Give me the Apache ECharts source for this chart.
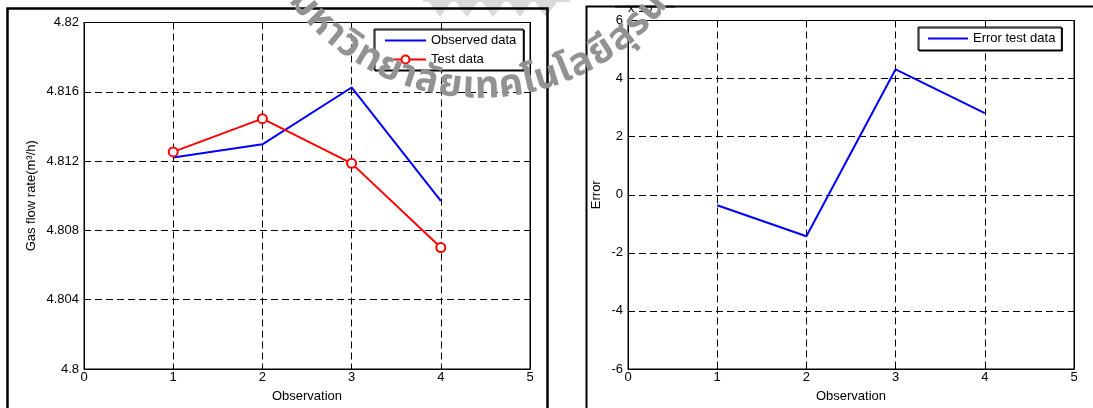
<!DOCTYPE html>
<html>
<head>
<meta charset="utf-8">
<title>Gas flow rate</title>
<script src="https://cdn.jsdelivr.net/npm/echarts@6/dist/echarts.min.js"></script>
<style>
  html, body { margin: 0; padding: 0; background: #fff; }
  #chart { width: 1093px; height: 408px; }
</style>
</head>
<body>
<div id="chart"></div>
<script>
// data
const observation = [1, 2, 3, 4]
const observedData = [4.81221, 4.81297, 4.81625, 4.80971]
const testData = [4.81253, 4.81445, 4.81187, 4.80701]
const errorData = [-0.36, -1.43, 4.32, 2.81] // x 10^-3

const FONT = '"Liberation Sans", Arial, sans-serif'
const txt = { color: '#000', fontFamily: FONT, fontSize: 13 }
const gridLine = { show: true, lineStyle: { color: '#000', width: 1, type: [7, 4] } }

function pairs(xs, ys) {
  return xs.map((x, i) => [x, ys[i]])
}

function xAxes(gridIndex) {
  const base = {
    gridIndex: gridIndex,
    type: 'value',
    min: 0,
    max: 5,
    interval: 1,
    axisLine: { onZero: false, lineStyle: { color: '#000', width: 1 } },
    axisTick: { inside: true, length: 5, lineStyle: { color: '#000' } }
  }
  return [
    Object.assign({}, base, {
      position: 'bottom',
      axisLabel: Object.assign({ margin: 2 }, txt),
      splitLine: gridLine,
      name: 'Observation',
      nameLocation: 'middle',
      nameGap: 21,
      nameTextStyle: txt
    }),
    Object.assign({}, base, {
      position: 'top',
      axisLabel: { show: false },
      splitLine: { show: false }
    })
  ]
}

function yAxes(gridIndex, min, max, interval, name, nameGap, fmt) {
  const base = {
    gridIndex: gridIndex,
    type: 'value',
    min: min,
    max: max,
    interval: interval,
    axisLine: { show: true, onZero: false, lineStyle: { color: '#000', width: 1 } },
    axisTick: { show: true, inside: true, length: 5, lineStyle: { color: '#000' } }
  }
  return [
    Object.assign({}, base, {
      position: 'left',
      axisLabel: Object.assign({ margin: 5, formatter: fmt }, txt),
      splitLine: gridLine,
      name: name,
      nameLocation: 'middle',
      nameRotate: 90,
      nameGap: nameGap,
      nameTextStyle: txt
    }),
    Object.assign({}, base, {
      position: 'right',
      axisLabel: { show: false },
      splitLine: { show: false }
    })
  ]
}

// watermark along an arc
const wmText = ['ม', 'ห', 'า', 'วิ', 'ท', 'ย', 'า', 'ลั', 'ย', 'เ', 'ท', 'ค', 'โ', 'น', 'โ', 'ล', 'ยี', 'สุ', 'ร', 'น', 'า', 'รี']
const wmWide = [22, 22, 14, 20, 22, 22, 14, 22, 22, 12, 22, 22, 12, 22, 12, 22, 22, 22, 18, 22, 14, 18]
function watermark() {
  const cx = 480, cy = -139, r = 229, k = 0.275
  const els = []
  let acc = 0
  wmText.forEach((t, i) => {
    const center = acc + wmWide[i] / 2
    acc += wmWide[i]
    const phi = (-51 + (center - 11) * k) * Math.PI / 180
    els.push({
      type: 'text',
      x: cx + r * Math.sin(phi),
      y: cy + r * Math.cos(phi),
      rotation: phi,
      z: 100,
      style: {
        text: t,
        fill: '#929292',
        font: 'bold 38px "Noto Sans Thai", "Loma", "Garuda", "DejaVu Sans", sans-serif',
        textAlign: 'center',
        textVerticalAlign: 'middle',
        align: 'center',
        verticalAlign: 'middle'
      }
    })
  })
  return els
}

function logo() {
  const tips = [440, 467, 493, 520, 546]
  const pts = [[423, 0], [570, 0], [570, 2]]
  tips.slice().reverse().forEach(x => {
    pts.push([x + 11, 2], [x, 17], [x - 11, 2])
  })
  pts.push([423, 2])
  return { type: 'polygon', z: -1, shape: { points: pts }, style: { fill: '#dadada' } }
}

const legendBox = {
  orient: 'vertical',
  itemHeight: 10,
  backgroundColor: '#fff',
  borderColor: '#000',
  borderWidth: 1,
  shadowColor: '#000',
  shadowOffsetX: 1,
  shadowOffsetY: 1,
  selectedMode: false,
  textStyle: txt
}

const chart = echarts.init(document.getElementById('chart'))
chart.setOption({
  animation: false,
  backgroundColor: '#fff',
  grid: [
    { left: 84, top: 22.5, width: 446, height: 351.5, show: true, borderColor: '#000', borderWidth: 1, backgroundColor: '#fff' },
    { left: 628, top: 20.5, width: 446, height: 351, show: true, borderColor: '#000', borderWidth: 1, backgroundColor: '#fff' }
  ],
  xAxis: xAxes(0).concat(xAxes(1)),
  yAxis: yAxes(0, 4.8, 4.82, 0.004, 'Gas flow rate(m³/h)', 46, v => String(parseFloat(v.toFixed(3))))
    .concat(yAxes(1, -6, 6, 2, 'Error', 25, v => String(Math.round(v)))),
  legend: [
    Object.assign({}, legendBox, {
      data: [{ name: 'Observed data', itemStyle: { opacity: 0 } }, 'Test data'],
      left: 374,
      top: 29,
      itemWidth: 41,
      itemGap: 6,
      padding: [5, 7, 4, 10]
    }),
    Object.assign({}, legendBox, {
      data: [{ name: 'Error test data', itemStyle: { opacity: 0 } }],
      left: 918,
      top: 27,
      itemWidth: 40,
      padding: [5, 6, 5, 9]
    })
  ],
  series: [
    {
      name: 'Observed data',
      type: 'line',
      xAxisIndex: 0,
      yAxisIndex: 0,
      data: pairs(observation, observedData),
      symbol: 'none',
      color: '#0000ff',
      lineStyle: { width: 2, color: '#0000ff' }
    },
    {
      name: 'Test data',
      type: 'line',
      xAxisIndex: 0,
      yAxisIndex: 0,
      data: pairs(observation, testData),
      symbol: 'emptyCircle',
      symbolSize: 9,
      color: '#ff0000',
      itemStyle: { color: '#ff0000', borderWidth: 1.6 },
      lineStyle: { width: 2, color: '#ff0000' }
    },
    {
      name: 'Error test data',
      type: 'line',
      xAxisIndex: 2,
      yAxisIndex: 2,
      data: pairs(observation, errorData),
      symbol: 'none',
      color: '#0000ff',
      lineStyle: { width: 2, color: '#0000ff' }
    }
  ],
  graphic: [
    logo(),
    // panel frames
    { type: 'rect', z: 0, shape: { x: 7.5, y: 8.5, width: 540, height: 420 }, style: { fill: null, stroke: '#000', lineWidth: 2.5 } },
    { type: 'rect', z: 0, shape: { x: 586.5, y: 6.5, width: 520, height: 420 }, style: { fill: null, stroke: '#000', lineWidth: 2 } },
    // exponent of the error axis, top half hidden like the original
    { type: 'text', x: 628, y: 2, z: 50, style: { text: 'x 10', font: '13px ' + FONT, fill: '#000' } },
    { type: 'text', x: 655, y: -3, z: 50, style: { text: '-3', font: '10px ' + FONT, fill: '#000' } },
    { type: 'rect', z: 51, shape: { x: 615, y: 0, width: 60, height: 5.5 }, style: { fill: '#fff' } },
    { type: 'line', z: 52, shape: { x1: 615, y1: 6.5, x2: 675, y2: 6.5 }, style: { stroke: '#000', lineWidth: 2 } }
  ].concat(watermark())
})
</script>
</body>
</html>
